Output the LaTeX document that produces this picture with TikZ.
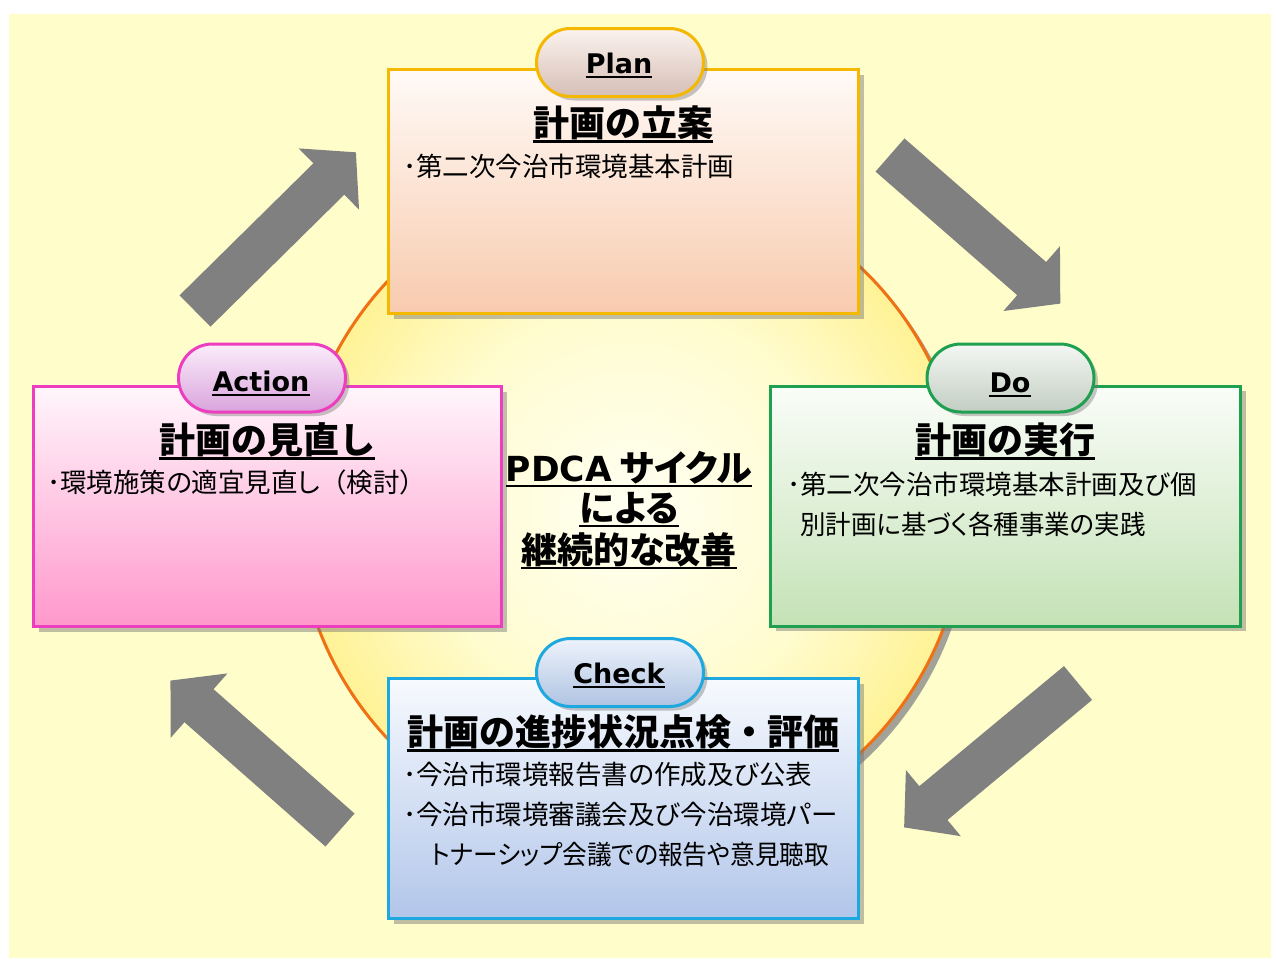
\documentclass[tikz,border=0pt]{standalone}
\usepackage{fontspec}
\newfontfamily\jp{Noto Sans CJK JP}
\newfontfamily\jpp{Noto Sans CJK JP}[RawFeature=+palt]
\newfontfamily\lat{DejaVu Sans}
\usetikzlibrary{shadows}
\definecolor{bgyellow}{HTML}{FFFDCA}
\definecolor{arrowgray}{HTML}{808080}
\definecolor{ringcol}{HTML}{F07014}
\definecolor{cA}{HTML}{FFFFF2}
\definecolor{cB}{HTML}{FFFCCF}
\definecolor{cC}{HTML}{FFF296}
\definecolor{planline}{HTML}{F5B800}
\definecolor{plantop}{HTML}{FFFAF7}
\definecolor{planbot}{HTML}{F8CBAE}
\definecolor{doline}{HTML}{1FA050}
\definecolor{dotop}{HTML}{FAFDF8}
\definecolor{dobot}{HTML}{C4E2B6}
\definecolor{chkline}{HTML}{1EA8E0}
\definecolor{chktop}{HTML}{F7FAFE}
\definecolor{chkbot}{HTML}{B2C6EA}
\definecolor{actline}{HTML}{EE3EC0}
\definecolor{acttop}{HTML}{FFF6FB}
\definecolor{actbot}{HTML}{FF98CC}
\definecolor{planpA}{HTML}{FBF3EE}
\definecolor{planpB}{HTML}{E6D0C8}
\definecolor{planpC}{HTML}{D6BEB6}
\definecolor{dopA}{HTML}{F4F7F4}
\definecolor{dopB}{HTML}{DCE4DC}
\definecolor{dopC}{HTML}{C2CEC2}
\definecolor{chkpA}{HTML}{EEF3FB}
\definecolor{chkpB}{HTML}{CFDCF0}
\definecolor{chkpC}{HTML}{AFC3E2}
\definecolor{actpA}{HTML}{FBEDFB}
\definecolor{actpB}{HTML}{EBC6EC}
\definecolor{actpC}{HTML}{D9A4DC}
\pgfdeclareradialshading{sunny}{\pgfpoint{0bp}{0bp}}{color(0bp)=(cA); color(15bp)=(cB); color(25bp)=(cC); color(50bp)=(cC)}
\tikzset{
  boxbase/.style={rectangle, line width=3pt, minimum width=470pt, minimum height=240pt, inner sep=0pt,
    drop shadow={shadow xshift=5pt, shadow yshift=-5pt, opacity=0.45, fill=black!55}},
  pillbase/.style={rectangle, rounded corners=34pt, line width=3pt, minimum width=167pt, minimum height=68pt, inner sep=0pt,
    drop shadow={shadow xshift=4pt, shadow yshift=-4pt, opacity=0.4, fill=black!55}},
  tag/.style={inner sep=0pt, anchor=base, font=\lat\bfseries\fontsize{27}{27}\selectfont},
  ttl/.style={inner sep=0pt, anchor=base, font=\jp\bfseries\fontsize{36}{36}\selectfont},
  body/.style={inner sep=0pt, anchor=base west, font=\jpp\fontsize{26.5}{26.5}\selectfont},
  ctr/.style={inner sep=0pt, anchor=base, font=\jpp\bfseries\fontsize{36}{36}\selectfont},
  ul/.style={line width=2.4pt, black},
  pics/blockarrow/.style={code={
    \fill[arrowgray] (0,-22) -- (188,-22) -- (188,-43) -- (226,0) -- (188,43) -- (188,22) -- (0,22) -- cycle;}}
}
\begin{document}
\begin{tikzpicture}[x=1pt,y=-1pt]
\useasboundingbox (0,0) rectangle (1276,962);
\fill[white] (0,0) rectangle (1276,962);
\fill[bgyellow] (9,14) rectangle (1271,958);

% central circle
\node[circle, minimum size=668pt, inner sep=0pt, fill=black!45, opacity=0.8] (ringshadow) at (637,516) {};
\node[circle, minimum size=668pt, inner sep=0pt, shading=sunny, draw=ringcol, line width=3pt] (ring) at (631,510) {};

% arrows
\pic[rotate=44.6] at (195,311) {blockarrow};
\pic[rotate=-41.1] at (890,155) {blockarrow};
\pic[rotate=-140.3] at (1078,683) {blockarrow};
\pic[rotate=138.6] at (340,830) {blockarrow};

% boxes
\node[boxbase, minimum height=244pt, draw=planline, top color=plantop, bottom color=planbot] (planbox) at (623.5,191.5) {};
\node[boxbase, draw=doline, top color=dotop, bottom color=dobot] (dobox) at (1005.5,506) {};
\node[boxbase, draw=chkline, top color=chktop, bottom color=chkbot] (chkbox) at (623.5,798.5) {};
\node[boxbase, minimum width=468pt, draw=actline, top color=acttop, bottom color=actbot] (actbox) at (267.5,506.5) {};

% pills
\node[pillbase, draw=planline, top color=planpA, middle color=planpB, bottom color=planpC] (planpill) at (620,62.5) {};
\node[pillbase, draw=doline, top color=dopA, middle color=dopB, bottom color=dopC] (dopill) at (1010.5,378) {};
\node[pillbase, draw=chkline, top color=chkpA, middle color=chkpB, bottom color=chkpC] (chkpill) at (620,672.5) {};
\node[pillbase, draw=actline, top color=actpA, middle color=actpB, bottom color=actpC] (actpill) at (262,378) {};

% tags
\node[tag] (plantag) at (619,73) {Plan};
\node[tag] (dotag) at (1010,392) {Do};
\node[tag] (chktag) at (619,683) {Check};
\node[tag] (acttag) at (261,391) {Action};
\foreach \n in {plantag,dotag,chktag,acttag}
  \draw[line width=2pt] ([yshift=-3.5pt]\n.base west) -- ([yshift=-3.5pt]\n.base east);

% titles
\node[ttl] (plantitle) at (623,136) {計画の立案};
\node[ttl] (dotitle) at (1005,453) {計画の実行};
\node[ttl] (chktitle) at (623,745) {計画の進捗状況点検・評価};
\node[ttl] (acttitle) at (267,453) {計画の見直し};
\foreach \n in {plantitle,dotitle,chktitle,acttitle}
  \draw[ul] ([yshift=-5.5pt]\n.base west) -- ([yshift=-5.5pt]\n.base east);

% body text
\node[body] (planb1) at (403,176) {･第二次今治市環境基本計画};
\node[body] (dob1) at (787,494) {･第二次今治市環境基本計画及び個};
\node[body] (dob2) at (800,534) {\scalebox{0.96}[1]{別計画に基づく各種事業の実践}};
\node[body] (chkb1) at (403,784) {･今治市環境報告書の作成及び公表};
\node[body] (chkb2) at (403,824) {･今治市環境審議会及び今治環境パー};
\node[body] (chkb3) at (431,864) {\scalebox{0.93}[1]{トナーシップ会議での報告や意見聴取}};
\node[body] (actb1) at (47,492) {･環境施策の適宜見直し{\jp（}検討{\jp）}};

% centre text
\node[ctr] (pdca1) at (629,481) {{\lat\bfseries\fontsize{34.5}{36}\selectfont PDCA} サイクル};
\node[ctr] (pdca2) at (629,521) {による};
\node[ctr] (pdca3) at (629,563) {継続的な改善};
\foreach \n in {pdca1,pdca2,pdca3}
  \draw[ul] ([yshift=-5pt]\n.base west) -- ([yshift=-5pt]\n.base east);
\end{tikzpicture}
\end{document}
